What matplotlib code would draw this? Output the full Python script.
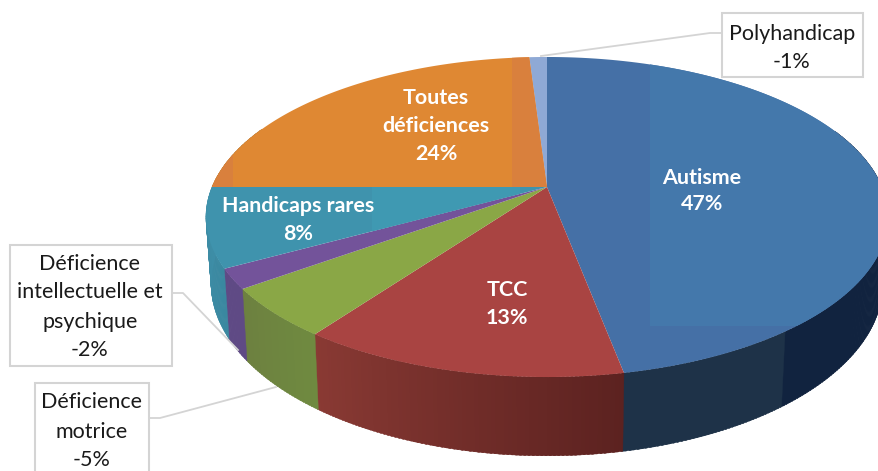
import numpy as np
import matplotlib
matplotlib.use("Agg")
import matplotlib.pyplot as plt
from matplotlib.patches import Polygon, Rectangle
from matplotlib.colors import to_rgb

plt.rcParams['font.family'] = ['Lato', 'DejaVu Sans']

categories = ["Autisme", "TCC", "Déficience motrice", "Déficience intellectuelle et psychique",
              "Handicaps rares", "Toutes déficiences", "Polyhandicap"]
values = [47, 13, 5, 2, 8, 24, 1]
top_colors = ["#4570a6", "#a94442", "#8aa746", "#73539a", "#3f93ad", "#df8833", "#8fa9d5"]
side_a = ["#1e3248", "#5c2220", "#6f8a40", "#5f4a85", "#3a88a0", "#b87428", "#6f85a8"]
side_b = ["#1e3248", "#8a3a34", "#6d8040", "#5f4a85", "#3f8fa8", "#b87428", "#6f85a8"]

CX, CY, K, A, C, DEPTH = 547, 187, 0.1875, 154.4, 335, 64

def proj(theta, drop=0.0):
    u, v = np.sin(theta), np.cos(theta)
    w = 1 + K*v
    return CX + C*u/w*(1-0.015*drop), CY - A*v/w + drop*DEPTH/w

fig = plt.figure(figsize=(8.79, 4.71), dpi=100)
ax = fig.add_axes([0, 0, 1, 1])
ax.set_xlim(0, 879); ax.set_ylim(471, 0); ax.axis("off")

edges = np.cumsum([0] + values)/100*2*np.pi
for i in range(len(values)):
    t = np.linspace(edges[i], edges[i+1], max(int(values[i]*6), 6)+1)
    for j in range(len(t)-1):
        if not (np.pi/2-0.4 < (t[j] % (2*np.pi)) < 3*np.pi/2+0.4):
            continue
        fr = j/(len(t)-1)
        col = np.array(to_rgb(side_a[i]))*(1-fr) + np.array(to_rgb(side_b[i]))*fr
        if i == 0 and proj(t[j])[0] > 788:
            col = to_rgb("#11233f")
        tt = np.array([t[j], t[j+1]+0.005])
        x0, y0 = proj(tt); x1, y1 = proj(tt, drop=1)
        ax.add_patch(Polygon(np.c_[np.r_[x0, x1[::-1]], np.r_[y0, y1[::-1]]], fc=col, ec=col, lw=0.3))

polys = []
for i in range(len(values)):
    t = np.linspace(edges[i], edges[i+1], 120)
    x, y = proj(t)
    p = Polygon(np.c_[np.r_[CX, x], np.r_[CY, y]], fc=top_colors[i], ec="none", zorder=3)
    ax.add_patch(p)
    polys.append(p)

def shade(x0, y0, x1, y1, col, slice_i):
    r = Rectangle((x0, y0), x1-x0, y1-y0, fc=col, ec="none", zorder=3.5)
    ax.add_patch(r)
    r.set_clip_path(polys[slice_i])

shade(650, 40, 890, 326, "#4478ab", 0)
shade(512, 40, 552, 187, "#d9803d", 5)
shade(200, 140, 233, 187, "#d9803d", 5)
shade(372, 187, 520, 240, "#3f99b2", 4)

def label(x, ys, lines, **kw):
    for y, s in zip(ys, lines):
        ax.text(x, y + 1.5, s, ha="center", va="center", **kw)

white = dict(color="white", fontweight="bold", fontsize=15.4, zorder=6)
label(702, [176, 203], ["Autisme", "47%"], **white)
label(507, [288, 316], ["TCC", "13%"], **white)
label(298, [204, 232], ["Handicaps rares", "8%"], **white)
label(436, [96, 125, 153], ["Toutes", "déficiences", "24%"], **white)

def box(x0, y0, x1, y1):
    ax.add_patch(Rectangle((x0, y0), x1-x0, y1-y0, fc="white", ec="#d4d4d4", lw=1.5, zorder=7))

plain = dict(color="#1a1a1a", fontsize=15.5, zorder=8)
line = dict(color="#d4d4d4", lw=1.3, zorder=5)
ax.plot([722, 710, 541], [33, 33, 56], **line)
ax.plot([172, 183, 238], [293, 293, 350], **line)
ax.plot([149, 160, 276], [418, 418, 387], **line)
box(722, 13, 863, 77)
label(792, [32, 60], ["Polyhandicap", "-1%"], **plain)
box(10, 245, 172, 366)
label(90, [262, 291, 320, 349], ["Déficience", "intellectuelle et", "psychique", "-2%"], **plain)
box(35, 383, 149, 475)
label(92, [401, 430, 458], ["Déficience", "motrice", "-5%"], **plain)

fig.savefig("out.png", dpi=100)
